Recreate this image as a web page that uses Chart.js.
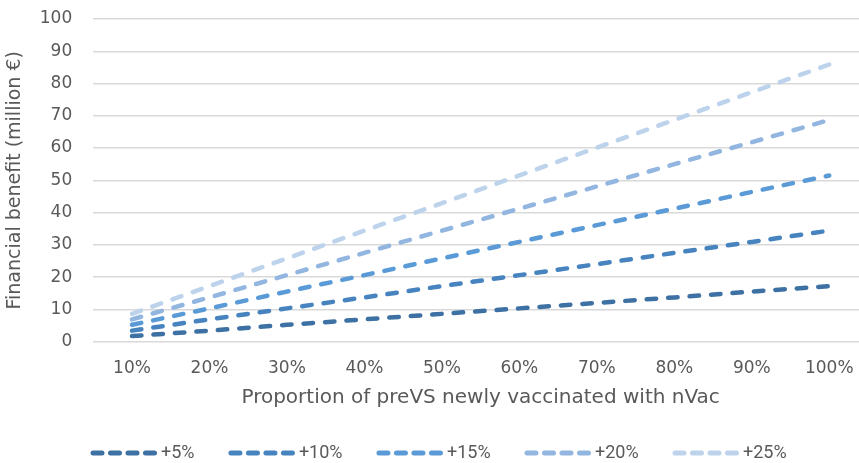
<!DOCTYPE html>
<html lang="en">
<head>
    <meta charset="UTF-8">
    <title>Financial benefit</title>
    <script src="https://cdn.jsdelivr.net/npm/chart.js"></script>
    <style>
        html, body { margin: 0; padding: 0; background: #fff; overflow: hidden; }
        /* the original plot runs a little past the right edge of the picture */
        #wrap { width: 868px; height: 463px; }
    </style>
</head>
<body>
<div id="wrap"><canvas id="benefitChart"></canvas></div>
<script>
    // proportion of preVS newly vaccinated with nVac
    const categories = ['10%', '20%', '30%', '40%', '50%', '60%', '70%', '80%', '90%', '100%'];

    // financial benefit, million euro, per scenario
    const plus5 = [1.7, 3.4, 5.2, 6.9, 8.6, 10.3, 12.0, 13.7, 15.5, 17.2];
    const plus10 = [3.4, 6.9, 10.3, 13.7, 17.2, 20.6, 24.0, 27.5, 30.9, 34.4];
    const plus15 = [5.2, 10.3, 15.5, 20.6, 25.8, 30.9, 36.1, 41.2, 46.4, 51.5];
    const plus20 = [6.9, 13.7, 20.6, 27.5, 34.4, 41.2, 48.1, 55.0, 61.8, 68.7];
    const plus25 = [8.6, 17.2, 25.8, 34.4, 42.9, 51.5, 60.1, 68.7, 77.3, 85.9];

    const seriesNames = ['+5%', '+10%', '+15%', '+20%', '+25%'];
    const seriesColors = ['#3d70a3', '#4683bf', '#5a9ad6', '#92b6e0', '#bdd3ec'];

    const tickFont = { family: '"DejaVu Sans", sans-serif', size: 17 };
    const xTitleFont = { family: '"DejaVu Sans", sans-serif', size: 20 };
    const yTitleFont = { family: '"DejaVu Sans", sans-serif', size: 19 };
    const legendFont = { family: 'Roboto, sans-serif', size: 18 };
    const grey = '#595959';

    // dashed legend swatch; some blank room on the left spaces the items out,
    // and the image is a bit wider than the box so the dashes sit close to the text
    const swatchW = 80;
    function dashSwatch(color) {
        const c = document.createElement('canvas');
        c.width = swatchW + 14;
        c.height = 8;
        const g = c.getContext('2d');
        g.strokeStyle = color;
        g.lineWidth = 5;
        g.lineCap = 'round';
        g.setLineDash([9, 8.5]);
        g.beginPath();
        g.moveTo(c.width - 66, 4);
        g.lineTo(c.width - 4, 4);
        g.stroke();
        return c;
    }

    const datasets = [plus5, plus10, plus15, plus20, plus25].map((values, i) => ({
        label: seriesNames[i],
        data: values,
        borderColor: seriesColors[i],
        backgroundColor: seriesColors[i],
        borderWidth: 4.5,
        borderDash: [9.5, 12],
        borderCapStyle: 'round',
        pointRadius: 0,
        fill: false,
        tension: 0
    }));

    new Chart(document.getElementById('benefitChart'), {
        type: 'line',
        data: { labels: categories, datasets: datasets },
        options: {
            responsive: true,
            maintainAspectRatio: false,
            animation: false,
            layout: { padding: { top: 0, right: 0, left: 4, bottom: -9 } },
            plugins: {
                tooltip: { enabled: false },
                legend: {
                    position: 'bottom',
                    labels: {
                        usePointStyle: true,
                        pointStyleWidth: swatchW,
                        boxHeight: 8,
                        padding: 2,
                        color: grey,
                        font: legendFont,
                        generateLabels(chart) {
                            const items = Chart.defaults.plugins.legend.labels.generateLabels(chart);
                            items.forEach(item => {
                                item.pointStyle = dashSwatch(seriesColors[item.datasetIndex]);
                                item.text = item.text + '   ';
                            });
                            return items;
                        }
                    }
                }
            },
            scales: {
                x: {
                    offset: true,
                    grid: { display: false },
                    border: { display: false },
                    ticks: { color: grey, font: tickFont, padding: 9, maxRotation: 0 },
                    title: {
                        display: true,
                        text: 'Proportion of preVS newly vaccinated with nVac',
                        color: grey,
                        font: xTitleFont,
                        padding: { top: -2, bottom: 32 }
                    }
                },
                y: {
                    min: 0,
                    max: 100,
                    ticks: { stepSize: 10, color: grey, font: tickFont, padding: 21 },
                    grid: { color: '#d9d9d9', lineWidth: 1.5, drawTicks: false },
                    border: { display: false },
                    // the tick padding would also push the plot down from the top
                    afterFit(scale) {
                        scale.paddingTop = 19;
                        scale.paddingBottom = 0;
                    },
                    title: {
                        display: true,
                        text: 'Financial benefit (million €)',
                        color: grey,
                        font: yTitleFont,
                        padding: { top: 0, bottom: -8 }
                    }
                }
            }
        }
    });
</script>
</body>
</html>
